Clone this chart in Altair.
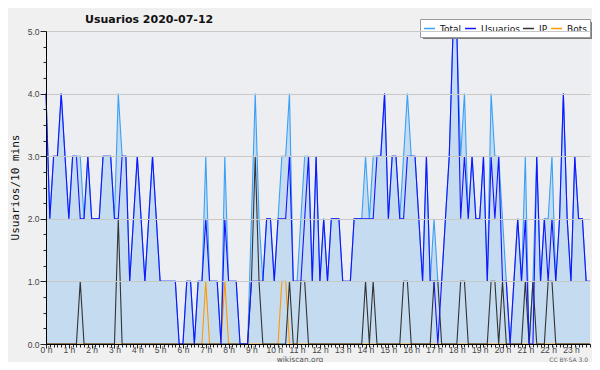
import json
import altair as alt
import pandas as pd

# ---- data (one value per 10-minute slot) ----
usuarios = [4, 2, 3, 3, 4, 3, 2, 3, 3, 2, 2, 3,
            2, 2, 2, 3, 3, 3, 2, 2, 3, 3, 1, 2,
            3, 2, 1, 2, 3, 2, 1, 1, 1, 1, 1, 0,
            0, 1, 1, 0, 1, 1, 2, 1, 1, 1, 0, 2,
            1, 1, 1, 0, 0, 0, 1, 1, 1, 1, 2, 2,
            1, 2, 2, 2, 3, 1, 1, 1, 2, 3, 1, 3,
            1, 2, 1, 2, 2, 2, 1, 1, 1, 2, 2, 2,
            2, 2, 2, 3, 3, 4, 2, 3, 3, 2, 2, 3,
            3, 3, 2, 1, 3, 1, 1, 0, 1, 2, 3, 5,
            5, 2, 3, 2, 3, 2, 2, 3, 1, 3, 2, 3,
            1, 1, 0, 1, 2, 1, 2, 0, 0, 3, 1, 2,
            1, 2, 1, 2, 4, 2, 1, 3, 2, 2, 1, 1]

ip = [0, 0, 0, 0, 0, 0, 0, 0, 0, 1, 0, 0,
      0, 0, 0, 0, 0, 0, 0, 2, 0, 0, 0, 0,
      0, 0, 0, 0, 0, 0, 0, 0, 0, 0, 0, 0,
      0, 0, 0, 0, 0, 0, 0, 0, 0, 0, 0, 0,
      0, 0, 0, 0, 0, 0, 1, 3, 1, 0, 0, 0,
      0, 0, 0, 0, 1, 0, 0, 1, 1, 0, 0, 0,
      0, 0, 0, 0, 0, 0, 0, 0, 0, 0, 0, 0,
      1, 0, 1, 0, 0, 0, 0, 0, 0, 0, 1, 1,
      0, 0, 0, 0, 0, 0, 1, 1, 0, 0, 0, 0,
      0, 1, 1, 0, 0, 0, 0, 0, 0, 1, 1, 0,
      1, 0, 0, 0, 0, 0, 1, 0, 1, 0, 0, 0,
      1, 1, 0, 0, 0, 0, 0, 0, 0, 0, 0, 0]

bots = [0, 0, 0, 0, 0, 0, 0, 0, 0, 0, 0, 0,
        0, 0, 0, 0, 0, 0, 0, 0, 0, 0, 0, 0,
        0, 0, 0, 0, 0, 0, 0, 0, 0, 0, 0, 0,
        0, 0, 0, 0, 0, 0, 1, 0, 0, 0, 0, 1,
        0, 0, 0, 0, 0, 0, 0, 0, 0, 0, 0, 0,
        0, 0, 1, 1, 0, 0, 0, 0, 0, 0, 0, 0,
        0, 0, 0, 0, 0, 0, 0, 0, 0, 0, 0, 0,
        0, 0, 0, 0, 0, 0, 0, 0, 0, 0, 0, 0,
        0, 0, 0, 0, 0, 0, 0, 0, 0, 0, 0, 0,
        0, 0, 0, 0, 0, 0, 0, 0, 0, 0, 0, 0,
        0, 0, 0, 0, 0, 0, 0, 0, 0, 0, 0, 0,
        0, 0, 0, 0, 0, 0, 0, 0, 0, 0, 0, 0]

total = [4, 2, 3, 3, 4, 3, 2, 3, 3, 3, 2, 3,
         2, 2, 2, 3, 3, 3, 2, 4, 3, 3, 1, 2,
         3, 2, 1, 2, 3, 2, 1, 1, 1, 1, 1, 0,
         0, 1, 1, 0, 1, 1, 3, 1, 1, 1, 0, 3,
         1, 1, 1, 0, 0, 0, 2, 4, 2, 1, 2, 2,
         1, 2, 3, 3, 4, 1, 1, 2, 3, 3, 1, 3,
         1, 2, 1, 2, 2, 2, 1, 1, 1, 2, 2, 2,
         3, 2, 3, 3, 3, 4, 2, 3, 3, 2, 3, 4,
         3, 3, 2, 1, 3, 1, 2, 1, 1, 2, 3, 5,
         5, 3, 4, 2, 3, 2, 2, 3, 1, 4, 3, 3,
         2, 1, 0, 1, 2, 1, 3, 0, 1, 3, 1, 2,
         2, 3, 1, 2, 4, 2, 1, 3, 2, 2, 1, 1]

hour_labels = [f"{h} h" for h in range(24)]
y_labels = ["0.0", "1.0", "2.0", "3.0", "4.0", "5.0"]
series = ["Total", "Usuarios", "IP", "Bots"]
series_colors = ["#3ca0f5", "#1414ff", "#333333", "#ff9900"]

chart_title = "Usuarios  2020-07-12"
y_title = "Usuarios/10 mins"
footer = "wikiscan.org"
license_txt = "CC BY-SA 3.0"

# ---- tables ----
n = len(usuarios)
slot = list(range(n))
long_df = pd.DataFrame({
    "slot": slot * 4,
    "value": total + usuarios + ip + bots,
    "serie": [s for s in series for _ in range(n)],
})

W, H = 544, 313

x_enc = alt.X(
    "slot:Q",
    scale=alt.Scale(domain=[0, n - 1], nice=False, zero=False),
    axis=alt.Axis(
        values=slot,
        labelExpr=f"datum.value % 6 === 0 ? {json.dumps(hour_labels)}[datum.value / 6] : ''",
        tickSize={"condition": {"test": "datum.value % 6 === 0", "value": 4}, "value": 3},
        labelPadding=-3,
        labelFont="Liberation Sans",
        labelFontSize=8.5,
        labelColor="#444444",
        labelOverlap=False,
        labelFlush=False,
        labelBound=False,
        grid=False,
        title=None,
        domainColor="black",
        tickColor="#222222",
        zindex=1,
    ),
)

y_vals = [k * 0.25 for k in range(21)]
y_enc = alt.Y(
    "value:Q",
    scale=alt.Scale(domain=[0, 5], nice=False, zero=True),
    axis=alt.Axis(
        values=y_vals,
        labelExpr=f"datum.value % 1 === 0 ? {json.dumps(y_labels)}[datum.value] : ''",
        tickSize={"condition": {"test": "datum.value % 1 === 0", "value": 6}, "value": 3},
        gridOpacity={"condition": {"test": "datum.value % 1 === 0", "value": 1}, "value": 0},
        grid=True,
        gridColor="#c8c8c8",
        labelFont="Liberation Sans",
        labelFontSize=8.5,
        labelColor="#444444",
        labelPadding=1,
        labelOverlap=False,
        labelBound=False,
        labelFlush=False,
        domainColor="black",
        tickColor="#222222",
        title=y_title,
        titleFont="DejaVu Sans Mono",
        titleFontSize=11,
        titleFontWeight="normal",
        titleColor="#111111",
        titleAngle=270,
        titleX=-37,
        titleY=156,
        titleAlign="center",
        titleBaseline="top",
        zindex=1,
    ),
)

color_enc = alt.Color(
    "serie:N",
    scale=alt.Scale(domain=series, range=series_colors),
    legend=alt.Legend(
        title=None,
        orient="none",
        legendX=374,
        legendY=-12,
        direction="horizontal",
        gridAlign="none",
        symbolType="stroke",
        symbolSize=121,
        symbolStrokeWidth=1.5,
        labelFont="DejaVu Sans",
        labelFontSize=9,
        labelColor="#111111",
        labelOffset=4,
        columnPadding=0,
        padding=3,
        fillColor="white",
        strokeColor="#9a9a9a",
    ),
)

base = alt.Chart(long_df)

area = base.transform_filter(alt.datum.serie == "Total").mark_area(
    color="#c5dcf0", opacity=1
).encode(x=x_enc, y=y_enc)


def line_layer(name, width=1.1):
    return base.transform_filter(alt.datum.serie == name).mark_line(
        strokeWidth=width, interpolate="linear"
    ).encode(x=x_enc, y=y_enc, color=color_enc)


l_total = line_layer("Total")
l_bots = line_layer("Bots")
l_ip = line_layer("IP")
l_usr = line_layer("Usuarios")

# legend shadow
shadow = alt.Chart(pd.DataFrame({"k": [0]})).mark_rect(color="#7c7c7c").encode(
    x=alt.value(377), x2=alt.value(546), y=alt.value(-9), y2=alt.value(8)
)

title_txt = alt.Chart(pd.DataFrame({"t": [chart_title]})).mark_text(
    font="DejaVu Sans", fontSize=11, fontWeight="bold", align="left",
    baseline="alphabetic", color="#111111"
).encode(x=alt.value(39), y=alt.value(-8), text="t:N")

footer_txt = alt.Chart(pd.DataFrame({"t": [footer]})).mark_text(
    font="DejaVu Sans", fontSize=7.5, align="center", baseline="alphabetic", color="#555555"
).encode(x=alt.value(254), y=alt.value(330.5), text="t:N")

lic_txt = alt.Chart(pd.DataFrame({"t": [license_txt]})).mark_text(
    font="DejaVu Sans", fontSize=6, align="right", baseline="alphabetic", color="#666666"
).encode(x=alt.value(542), y=alt.value(330.5), text="t:N")

chart = alt.layer(
    area, l_total, l_bots, l_ip, l_usr, shadow, title_txt, footer_txt, lic_txt
).properties(
    width=W,
    height=H,
    autosize=alt.AutoSizeParams(type="none"),
    padding={"left": 38, "top": 23, "right": 2, "bottom": 18},
    background="#f0f0f0",
).configure_view(fill="#eceef1", stroke=None)

chart.save("out.html", embed_options={"renderer": "svg", "actions": False})
